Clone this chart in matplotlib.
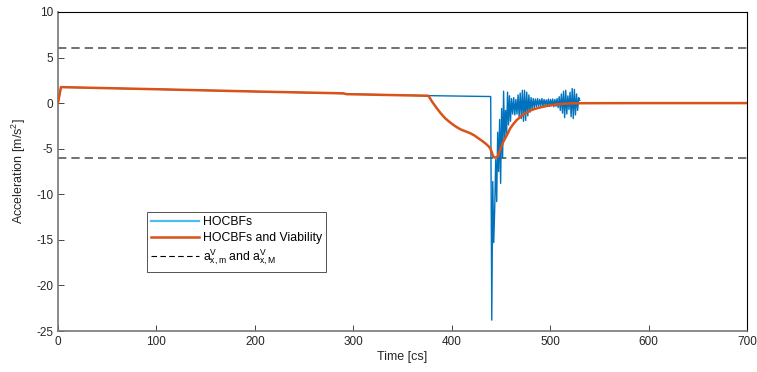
import matplotlib
matplotlib.use("Agg")
import matplotlib.pyplot as plt

plt.rcParams['font.family'] = ['Liberation Sans', 'DejaVu Sans']
plt.rcParams['mathtext.fontset'] = 'custom'
plt.rcParams['mathtext.rm'] = 'Liberation Sans'
plt.rcParams['mathtext.it'] = 'Liberation Sans'
plt.rcParams['axes.unicode_minus'] = False

# HOCBFs only: smooth part, sudden drop, then chattering
t_hocbf = [0, 3, 100, 200, 290, 293, 375, 439.5,
           440.6, 441.6, 442.6, 443.6, 444.6, 445.6, 446.6, 447.6, 448.6, 449.6,
           450.6, 451.6, 452.6, 453.6, 454.6, 455.6, 456.6, 457.6, 458.6, 459.6,
           460.7, 461.8, 462.9, 464.0, 465.1, 466.2, 467.3, 468.4, 469.5, 470.6,
           471.7, 472.8, 473.9, 475.0, 476.1, 477.2, 478.3, 479.4, 480.5, 481.6,
           482.7, 483.8, 484.9, 486.0, 487.1, 488.2, 489.3, 490.4, 491.5, 492.6,
           493.7, 494.8, 495.9, 497.0, 498.1, 499.2, 500.3, 501.4, 502.5, 503.6,
           504.7, 505.8, 506.9, 508.0, 509.1, 510.2, 511.3, 512.4, 513.5, 514.6,
           515.7, 516.8, 517.9, 519.0, 520.1, 521.2, 522.3, 523.4, 524.5, 525.6,
           526.7, 527.8, 528.9, 530.0]
a_hocbf = [0, 1.75, 1.52, 1.27, 1.05, 1.0, 0.82, 0.72,
           -23.8, -8.6, -15.3, -11.5, -6.2, -10.8, -3.2, -7.5, -1.8, -8.8,
           -0.6, -6.0, 1.3, -4.0, -0.8, -3.6, 1.2, -2.4, 0.8, -2.0,
           0.5, -1.2, 0.6, -1.3, 0.4, -1.2, 0.9, -1.5, 1.1, -1.7,
           1.4, -2.0, 1.4, -1.9, 1.2, -1.4, 0.9, -1.0, 0.6, -0.7,
           0.5, -0.5, 0.45, -0.4, 0.5, -0.35, 0.4, -0.3, 0.5, -0.35,
           0.4, -0.25, 0.35, -0.3, 0.45, -0.35, 0.4, -0.3, 0.45, -0.4,
           0.4, -0.35, 0.5, -0.5, 0.7, -0.8, 1.0, -1.1, 1.3, -1.6,
           1.4, -1.2, 0.8, -0.7, 1.2, -1.5, 1.6, -1.7, 1.5, -1.3,
           1.0, -0.8, 0.6, 0.3]

# HOCBFs combined with viability constraints
t_viab = [0, 3, 100, 200, 290, 293, 376.3, 380, 384.8, 389, 393.3, 397.5,
          401.7, 406, 410.2, 414.5, 418.7, 423, 427.1, 430.5, 433.9, 437,
          439, 440.5, 441.7, 443, 445, 446.5, 448.5, 450.9, 452.5, 456, 459.3,
          462.5, 466, 472.9, 478, 483, 488, 493.2, 500, 506.8, 515, 523.7,
          540, 600, 700]
a_viab = [0, 1.75, 1.52, 1.27, 1.07, 0.98, 0.8, 0.15, -0.57, -1.15, -1.67,
          -2.05, -2.4, -2.7, -2.95, -3.12, -3.3, -3.55, -3.87, -4.12, -4.4,
          -4.7, -4.96, -5.35, -5.77, -5.95, -5.97, -5.9, -5.3, -4.6, -4.2,
          -3.5, -2.77, -2.3, -1.85, -1.23, -0.9, -0.68, -0.52, -0.39, -0.24,
          -0.13, -0.06, -0.02, -0.01, 0.0, 0.0]

# Acceleration bounds
a_min, a_max = -6, 6
x_ticks = [0, 100, 200, 300, 400, 500, 600, 700]
y_ticks = [-25, -20, -15, -10, -5, 0, 5, 10]

fig = plt.figure(figsize=(7.57, 3.72), dpi=100)
ax = fig.add_axes([0.0766, 0.110, 0.9104, 0.858])

ax.plot(t_hocbf, a_hocbf, color='#0072BD', lw=1.0, label='HOCBFs', zorder=3)
ax.plot(t_viab, a_viab, color='#D95319', lw=1.8, label='HOCBFs and Viability', zorder=4)
ax.axhline(a_max, color='k', ls=(0, (5, 3)), lw=1.2, alpha=0.65, zorder=2,
           label=r'a$^{\mathrm{V}}_{\mathrm{x,m}}$ and a$^{\mathrm{V}}_{\mathrm{x,M}}$')
ax.axhline(a_min, color='k', ls=(0, (5, 3)), lw=1.2, alpha=0.65, zorder=2)

ax.set_xlim(0, 700)
ax.set_ylim(-25, 10)
ax.set_xticks(x_ticks)
ax.set_yticks(y_ticks)
ax.tick_params(direction='in', length=4, width=0.6, labelsize=8.5,
               colors='#262626', top=False, right=False)
for side in ('left', 'bottom'):
    ax.spines[side].set_color('#777777')
    ax.spines[side].set_linewidth(1.2)
for side in ('top', 'right'):
    ax.spines[side].set_color('black')
    ax.spines[side].set_linewidth(0.8)

ax.set_xlabel('Time [cs]', fontsize=9, color='#262626', labelpad=2)
ax.set_ylabel(r'Acceleration [m/s$^2$]', fontsize=9, color='#262626', labelpad=6)

leg = ax.legend(loc='lower left', bbox_to_anchor=(0.129, 0.186), fontsize=8.8,
                frameon=True, fancybox=False, edgecolor='#262626',
                handlelength=3.9, borderpad=0.35, labelspacing=0.3,
                handletextpad=0.3, borderaxespad=0)
leg.get_frame().set_linewidth(0.7)
leg.legend_handles[2].set_alpha(1.0)
leg.legend_handles[2].set_linewidth(0.8)
leg.legend_handles[0].set_color('#4DBEEE')
leg.legend_handles[0].set_linewidth(1.6)

fig.savefig('out.png', dpi=100)
